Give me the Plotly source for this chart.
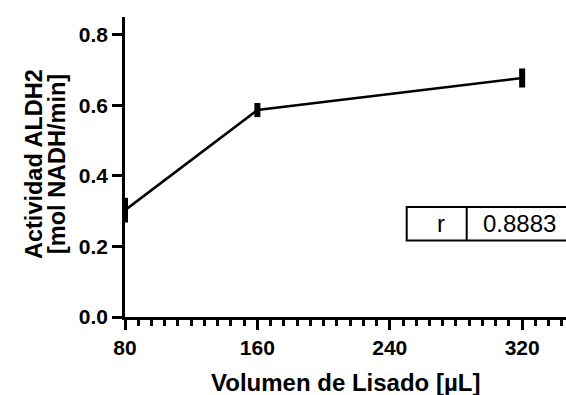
import plotly.graph_objects as go

# Lysate volume (µL) vs ALDH2 activity, mean ± error
volumen = [80, 160, 320]
actividad = [0.303, 0.587, 0.678]
error = [0.035, 0.02, 0.027]

x_ticks = [80, 160, 240, 320]
x_minor_step = 8
y_ticks = [0.0, 0.2, 0.4, 0.6, 0.8]

r_label = "r"
r_value = "0.8883"

FONT = "Liberation Sans, Arial, sans-serif"
INK = "black"
X_RANGE = [80, 346.5]

fig = go.Figure()
fig.add_trace(go.Scatter(
    x=volumen, y=actividad,
    mode="lines",
    line=dict(color=INK, width=2.6),
    error_y=dict(type="data", array=error, visible=True,
                 color=INK, thickness=6, width=0),
    cliponaxis=False,
    showlegend=False,
    hoverinfo="x+y",
))

axis_common = dict(
    showline=True, linecolor=INK, linewidth=2.6,
    ticks="outside", tickcolor=INK, tickwidth=2.6, ticklen=10,
    showgrid=False, zeroline=False,
    tickfont=dict(family=FONT, size=21, color=INK, weight="bold"),
)

fig.update_xaxes(
    range=X_RANGE,
    tickmode="linear", tick0=x_ticks[0], dtick=x_ticks[1] - x_ticks[0],
    minor=dict(tickmode="linear", tick0=x_ticks[0], dtick=x_minor_step,
               ticks="outside", ticklen=6, tickwidth=2.6, tickcolor=INK),
    **axis_common,
)
fig.update_yaxes(
    range=[0, 0.851],
    tickvals=y_ticks, ticktext=[f"{v:.1f}" for v in y_ticks],
    **axis_common,
)

# x-axis title
fig.add_annotation(
    text="Volumen de Lisado [µL]",
    x=0.5, xref="paper", xanchor="center",
    y=(317 - 382) / 300, yref="paper", yanchor="middle",
    showarrow=False,
    font=dict(family=FONT, size=24, color=INK, weight="bold"),
)

# y-axis title as two stacked rotated lines
for txt, xpx in [("Actividad ALDH2", 34), ("[mol NADH/min]", 57)]:
    fig.add_annotation(
        text=txt, textangle=-90,
        x=(xpx - 125) / 441, xref="paper", xanchor="center",
        y=0.51, yref="paper", yanchor="middle",
        showarrow=False,
        font=dict(family=FONT, size=23.5, color=INK, weight="bold"),
    )

# correlation table box
bx0, bx1, bdiv = (406.7 - 125) / 441, 1.05, (466.7 - 125) / 441
by0, by1 = (317 - 240.5) / 300, (317 - 207) / 300
fig.add_shape(type="rect", xref="paper", yref="paper",
              x0=bx0, x1=bx1, y0=by0, y1=by1,
              line=dict(color=INK, width=2), fillcolor="white", layer="above")
fig.add_shape(type="line", xref="paper", yref="paper",
              x0=bdiv, x1=bdiv, y0=by0, y1=by1,
              line=dict(color=INK, width=2), layer="above")
fig.add_annotation(text=r_label, x=(441 - 125) / 441, xref="paper", xanchor="center",
                   y=(by0 + by1) / 2, yref="paper", yanchor="middle",
                   showarrow=False, font=dict(family=FONT, size=24, color=INK))
fig.add_annotation(text=r_value, x=(481 - 125) / 441, xref="paper", xanchor="left",
                   y=(by0 + by1) / 2, yref="paper", yanchor="middle",
                   showarrow=False, font=dict(family=FONT, size=24, color=INK))

fig.update_layout(
    width=566, height=395,
    margin=dict(l=125, r=0, t=17, b=78),
    paper_bgcolor="white", plot_bgcolor="white",
    font=dict(family=FONT, color=INK),
)

fig.write_html("out.html")
